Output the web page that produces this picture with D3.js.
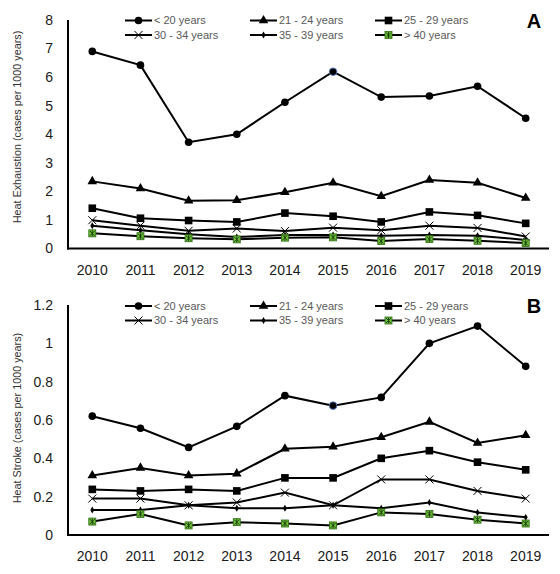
<!DOCTYPE html>
<html><head><meta charset="utf-8">
<script src="https://cdn.jsdelivr.net/npm/d3@7"></script>
<style>body{margin:0;background:#fff}svg{display:block}</style>
</head><body>
<svg id="c" width="560" height="574"></svg>
<script>
const years = ["2010","2011","2012","2013","2014","2015","2016","2017","2018","2019"];
const seriesNames = ["< 20 years","21 - 24 years","25 - 29 years","30 - 34 years","35 - 39 years","> 40 years"];
const markerTypes = ["circle","triangle","square","cross","diamond","green"];

// Panel A: Heat Exhaustion
const exhLt20   = [6.9, 6.42, 3.72, 4.0, 5.12, 6.19, 5.3, 5.34, 5.68, 4.56];
const exh21_24  = [2.35, 2.1, 1.67, 1.69, 1.97, 2.3, 1.83, 2.4, 2.3, 1.77];
const exh25_29  = [1.41, 1.06, 0.98, 0.93, 1.24, 1.13, 0.93, 1.28, 1.16, 0.88];
const exh30_34  = [0.99, 0.8, 0.62, 0.7, 0.61, 0.73, 0.64, 0.8, 0.72, 0.42];
const exh35_39  = [0.8, 0.64, 0.5, 0.4, 0.47, 0.47, 0.45, 0.47, 0.45, 0.3];
const exhGt40   = [0.53, 0.43, 0.36, 0.32, 0.38, 0.39, 0.26, 0.33, 0.27, 0.19];
const exhTicks  = [0,1,2,3,4,5,6,7,8];

// Panel B: Heat Stroke
const strLt20   = [0.62, 0.557, 0.457, 0.567, 0.727, 0.675, 0.718, 1.0, 1.09, 0.88];
const str21_24  = [0.31, 0.35, 0.31, 0.32, 0.45, 0.46, 0.51, 0.59, 0.48, 0.52];
const str25_29  = [0.238, 0.23, 0.238, 0.23, 0.298, 0.298, 0.40, 0.44, 0.38, 0.34];
const str30_34  = [0.19, 0.19, 0.155, 0.17, 0.221, 0.155, 0.29, 0.29, 0.23, 0.19];
const str35_39  = [0.13, 0.13, 0.155, 0.14, 0.14, 0.155, 0.14, 0.17, 0.117, 0.092];
const strGt40   = [0.07, 0.11, 0.05, 0.067, 0.06, 0.05, 0.118, 0.11, 0.08, 0.06];
const strTicks  = [0,0.2,0.4,0.6,0.8,1,1.2];

const highlightYear = "2015";

const svg = d3.select("#c");
const x = d3.scalePoint().domain(years).range([92.3, 525.7]);

function marker(g, type, cx, cy, hl){
  if(type==="circle"){
    g.append("circle").attr("cx",cx).attr("cy",cy).attr("r",3.8).attr("fill","#000")
      .attr("stroke",hl?"#5b7fc7":"none").attr("stroke-width",hl?0.9:0);
  } else if(type==="triangle"){
    g.append("path").attr("d",d3.symbol(d3.symbolTriangle,40)()).attr("transform",`translate(${cx},${cy})`).attr("fill","#000");
  } else if(type==="square"){
    g.append("rect").attr("x",cx-3.8).attr("y",cy-3.8).attr("width",7.6).attr("height",7.6).attr("fill","#000");
  } else if(type==="cross"){
    g.append("path").attr("d",`M${cx-4},${cy-4}L${cx+4},${cy+4}M${cx-4},${cy+4}L${cx+4},${cy-4}`).attr("stroke","#000").attr("stroke-width",1);
  } else if(type==="diamond"){
    g.append("path").attr("d",d3.symbol(d3.symbolDiamond,14)()).attr("transform",`translate(${cx},${cy})`).attr("fill","#000");
  } else {
    g.append("rect").attr("x",cx-3.5).attr("y",cy-3.5).attr("width",7).attr("height",7).attr("fill","#6cbf3a").attr("stroke","#2d6a12").attr("stroke-width",0.8);
    g.append("path").attr("d",`M${cx-2.5},${cy-2.5}L${cx+2.5},${cy+2.5}M${cx-2.5},${cy+2.5}L${cx+2.5},${cy-2.5}M${cx},${cy-3}L${cx},${cy+3}`).attr("stroke","#1a3a0a").attr("stroke-width",0.9);
  }
}

function panel(cfg){
  const y = d3.scaleLinear().domain([0, cfg.max]).range([cfg.y0, cfg.y1]);
  const g = svg.append("g");
  g.selectAll(".yt").data(cfg.ticks).join("text")
    .attr("x",53).attr("y",d=>y(d)).attr("dy","0.35em").attr("text-anchor","end")
    .attr("font-family","Liberation Sans, Arial, sans-serif").attr("font-size",14).attr("fill","#1a1a1a")
    .text(d=>d);
  g.selectAll(".xt").data(years).join("text")
    .attr("x",d=>x(d)).attr("y",cfg.y0+26).attr("text-anchor","middle")
    .attr("font-family","Liberation Sans, Arial, sans-serif").attr("font-size",14).attr("fill","#1a1a1a")
    .text(d=>d);
  g.append("text").attr("transform",`translate(21,${cfg.titleY}) rotate(-90)`)
    .attr("text-anchor","middle").attr("font-family","Liberation Sans, Arial, sans-serif")
    .attr("font-size",10.8).attr("fill","#333").text(cfg.title);
  const line = d3.line().x((d,i)=>x(years[i])).y(d=>y(d));
  cfg.series.forEach((vals)=>{
    g.append("path").attr("d",line(vals)).attr("fill","none").attr("stroke","#000").attr("stroke-width",2);
  });
  cfg.series.forEach((vals,si)=>{
    const mg = g.append("g");
    vals.forEach((v,i)=>marker(mg, markerTypes[si], x(years[i]), y(v), si===0 && years[i]===highlightYear));
  });
  g.append("line").attr("x1",68).attr("x2",68).attr("y1",cfg.y1).attr("y2",cfg.y0+1).attr("stroke","#000").attr("stroke-width",2);
  g.append("line").attr("x1",67).attr("x2",549).attr("y1",cfg.y0).attr("y2",cfg.y0).attr("stroke","#000").attr("stroke-width",2);
  const cols=[125,250,375];
  seriesNames.forEach((name,i)=>{
    const lx = cols[i%3], ly = cfg.legY + Math.floor(i/3)*14.5;
    g.append("line").attr("x1",lx).attr("x2",lx+27).attr("y1",ly).attr("y2",ly).attr("stroke","#000").attr("stroke-width",2);
    marker(g, markerTypes[i], lx+13.5, ly, false);
    g.append("text").attr("x",lx+29).attr("y",ly).attr("dy","0.35em")
      .attr("font-family","Liberation Sans, Arial, sans-serif").attr("font-size",11).attr("fill","#595959").text(name);
  });
  g.append("text").attr("x",534).attr("y",cfg.legY+7).attr("text-anchor","middle")
    .attr("font-family","Liberation Sans, Arial, sans-serif").attr("font-weight","bold").attr("font-size",20).attr("fill","#000").text(cfg.letter);
}

panel({max:8, y0:248.5, y1:20, ticks:exhTicks, title:"Heat Exhaustion (cases per 1000 years)", titleY:127,
  series:[exhLt20,exh21_24,exh25_29,exh30_34,exh35_39,exhGt40], legY:20.5, letter:"A"});
panel({max:1.2, y0:535, y1:305, ticks:strTicks, title:"Heat Stroke (cases per 1000 years)", titleY:418,
  series:[strLt20,str21_24,str25_29,str30_34,str35_39,strGt40], legY:306, letter:"B"});
</script>
</body></html>
